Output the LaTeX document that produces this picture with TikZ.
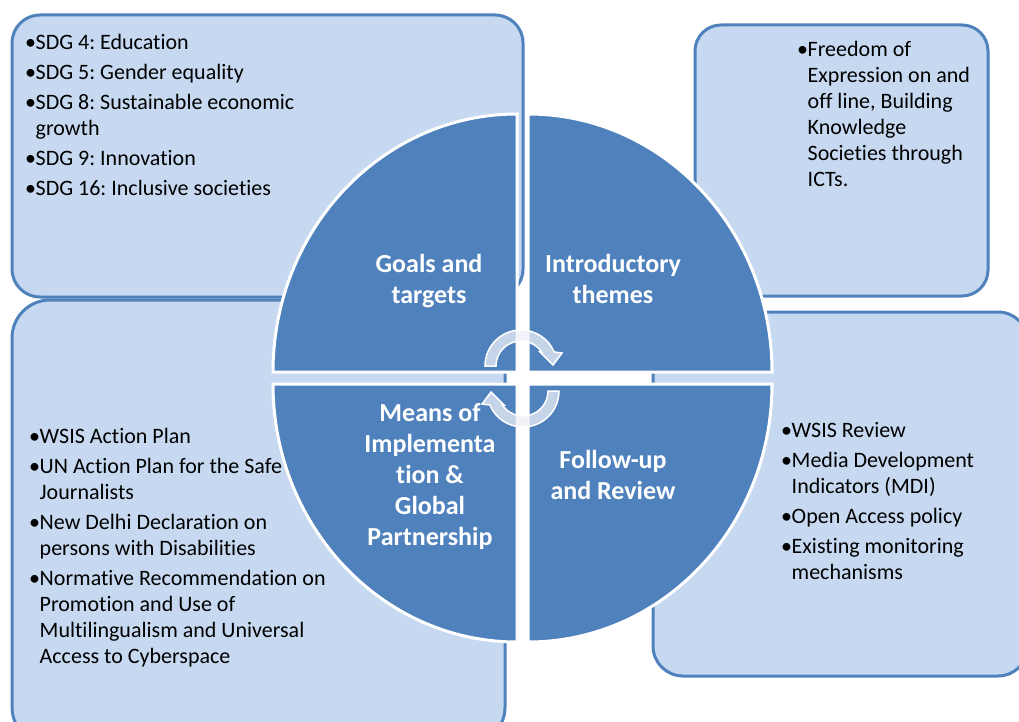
\documentclass[tikz,border=0pt]{standalone}
\usepackage{fontspec}
\setmainfont{Carlito}[Ligatures={NoCommon,NoContextual}]
\definecolor{qblue}{HTML}{4F81BD}
\definecolor{boxline}{HTML}{4F81BD}
\definecolor{boxfill}{HTML}{C6D9F0}
\definecolor{arrowfill}{HTML}{EDF0F7}
\newcommand\bl{\makebox[10pt][c]{•}}
\newcommand\ind{\hspace*{10pt}}
\frenchspacing
\begin{document}
\begin{tikzpicture}[x=1pt,y=-1pt,
  infobox/.style={draw=boxline, fill=boxfill, line width=3pt},
  quad/.style={fill=qblue, draw=white, line width=3pt},
  cyc/.style={fill=arrowfill, fill opacity=0.75, draw=white, line width=1.5pt},
  boxtext/.style={anchor=base west, inner sep=0pt, text=black, font=\frenchspacing\fontsize{22}{26}\selectfont},
  qtext/.style={anchor=base, inner sep=0pt, text=white, font=\bfseries\fontsize{26}{31}\selectfont}]
\clip (0,0) rectangle (1019,722);
\fill[white] (0,0) rectangle (1019,722);
% info boxes
\draw[infobox, rounded corners=28pt] (12,15) rectangle (523,297);
\draw[infobox, rounded corners=26pt] (695,25) rectangle (988,296);
\draw[infobox, rounded corners=38pt] (12,300) rectangle (505,745);
\draw[infobox, rounded corners=30pt] (653,312) rectangle (1028,676);
% box texts
\node[boxtext] (goalslist) at (25.5,50) {\parbox[t]{480pt}{\raggedright\frenchspacing
\bl SDG 4: Education\\[4pt]
\bl SDG 5: Gender equality\\[4pt]
\bl SDG 8: Sustainable economic\\
\ind growth\\[4pt]
\bl SDG 9: Innovation\\[4pt]
\bl SDG 16: Inclusive societies}};
\node[boxtext] (themeslist) at (797.5,57) {\parbox[t]{200pt}{\raggedright\frenchspacing
\bl Freedom of\\
\ind Expression on and\\
\ind off line, Building\\
\ind Knowledge\\
\ind Societies through\\
\ind ICTs.}};
\node[boxtext] (reviewlist) at (781.5,437) {\parbox[t]{230pt}{\raggedright\frenchspacing
\bl WSIS Review\\[4pt]
\bl Media Development\\
\ind Indicators (MDI)\\[4pt]
\bl Open Access policy\\[4pt]
\bl Existing monitoring\\
\ind mechanisms}};
\node[boxtext] (meanslist) at (29.5,443) {\parbox[t]{460pt}{\raggedright\frenchspacing
\bl WSIS Action Plan\\[4pt]
\bl UN Action Plan for the Safe\\
\ind Journalists\\[4pt]
\bl New Delhi Declaration on\\
\ind persons with Disabilities\\[4pt]
\bl Normative Recommendation on\\
\ind Promotion and Use of\\
\ind Multilingualism and Universal\\
\ind Access to Cyberspace}};
% quadrants
\path[quad] (517,372) -- (273,372) arc[start angle=180, end angle=270, x radius=244, y radius=258] -- cycle;
\path[quad] (528,372) -- (528,114) arc[start angle=270, end angle=360, x radius=244, y radius=258] -- cycle;
\path[quad] (528,384) -- (772,384) arc[start angle=0, end angle=90, x radius=244, y radius=258] -- cycle;
\path[quad] (517,384) -- (517,642) arc[start angle=90, end angle=180, x radius=244, y radius=258] -- cycle;
% quadrant labels
\node[qtext] (goals) at (429,272) {\parbox[t]{220pt}{\centering Goals and\\ targets}};
\node[qtext] (intro) at (613,272) {\parbox[t]{220pt}{\centering Introductory\\ themes}};
\node[qtext] (means) at (430,421) {\parbox[t]{220pt}{\centering Means of\\ Implementa\\ tion \&\\ Global\\ Partnership}};
\node[qtext] (follow) at (613,468) {\parbox[t]{220pt}{\centering Follow-up\\ and Review}};
% cycle arrows
\begin{scope}[shift={(521,366)}]
\path[cyc] (180:36) arc[start angle=180, end angle=337, radius=36] -- (41,-13) -- (32,-1) -- (19,-14) -- (326:25) arc[start angle=326, end angle=180, radius=25] -- cycle;
\end{scope}
\begin{scope}[shift={(523,391)}, rotate=180]
\path[cyc] (180:36) arc[start angle=180, end angle=337, radius=36] -- (41,-13) -- (32,-1) -- (19,-14) -- (326:25) arc[start angle=326, end angle=180, radius=25] -- cycle;
\end{scope}
\end{tikzpicture}
\end{document}
